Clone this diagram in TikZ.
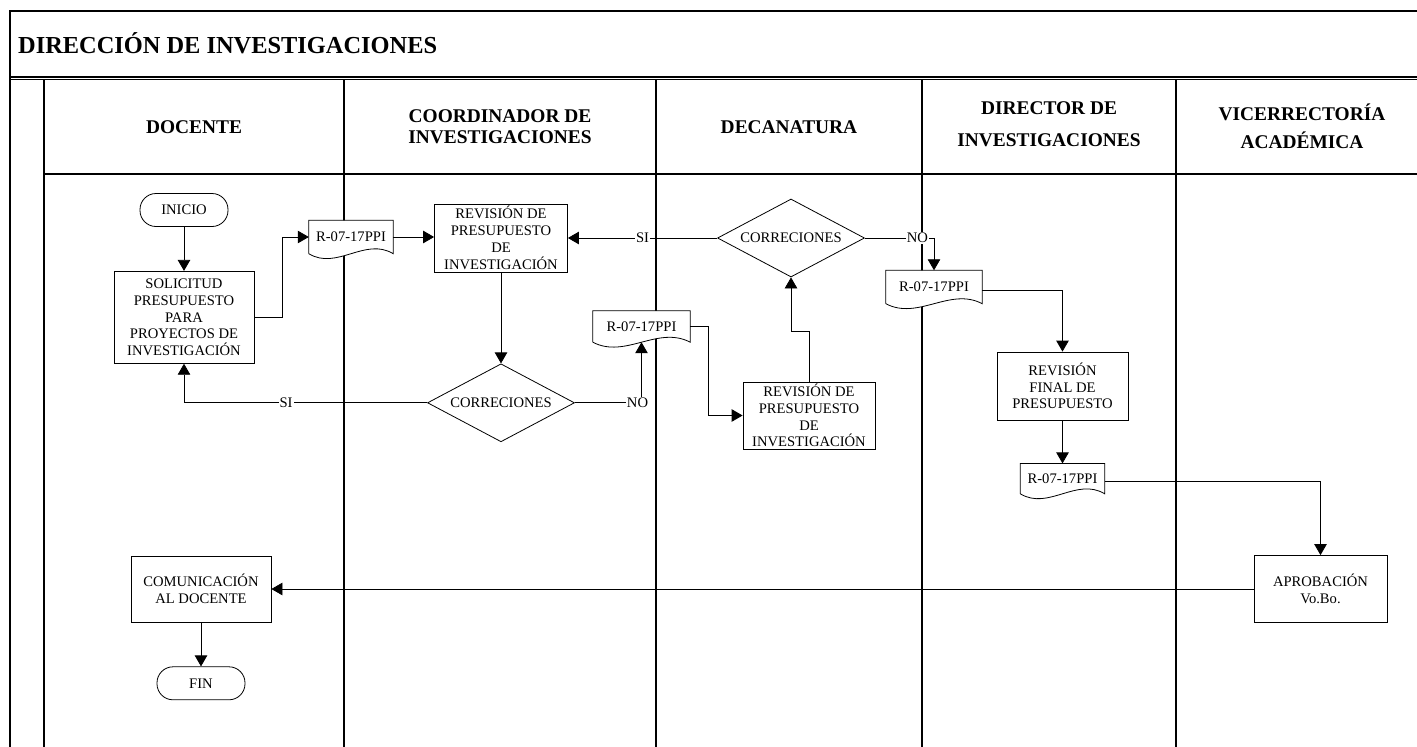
\documentclass[tikz,border=0pt]{standalone}
\usepackage{fontspec}
\setmainfont{Liberation Serif}
\usepackage{tikz}
\usetikzlibrary{positioning,shapes.geometric,arrows.meta,calc}

\newcommand{\nodefont}{\fontsize{14.6}{16.8}\selectfont}
\newcommand{\headfont}{\fontsize{19.4}{21}\selectfont\bfseries}
\newcommand{\titlefont}{\fontsize{24.4}{28}\selectfont\bfseries}

\pgfdeclarelayer{background}
\pgfdeclarelayer{docfill}
\pgfsetlayers{background,docfill,main}

\tikzset{
	proc/.style={rectangle, draw, fill=white, align=center, inner sep=0pt, line width=0.8pt, font=\nodefont},
	term/.style={rectangle, draw, fill=white, rounded corners=16pt, minimum width=88pt, minimum height=33pt, line width=0.8pt, font=\nodefont},
	deci/.style={diamond, draw, fill=white, aspect=1.9, minimum width=147pt, minimum height=78pt, inner sep=0pt, line width=0.8pt, font=\nodefont},
	docu/.style={rectangle, inner sep=0pt, font=\nodefont},
	arr/.style={-{Triangle[length=11pt,width=12.5pt]}, line width=0.8pt},
	lbl/.style={fill=white, inner sep=1pt, font=\nodefont},
	frame/.style={line width=1.1pt},
	head/.style={align=center, font=\headfont}
}

\begin{document}
\begin{tikzpicture}[x=1pt, y=-1pt]
	\useasboundingbox (0,0) rectangle (1417,747);

	% lanes
	\begin{pgfonlayer}{background}
		\draw[frame] (10,747) -- (10,11) -- (1417,11);
		\draw[frame] (10,77) -- (1417,77);
		\draw[frame] (10,79.5) -- (1417,79.5);
		\draw[frame] (44,174) -- (1417,174);
		\foreach \x in {44,344,656,922,1176}
			\draw[frame] (\x,79.5) -- (\x,747);
	\end{pgfonlayer}

	\node[font=\titlefont, anchor=base west, inner sep=0pt] (title) at (18,53) {DIRECCIÓN DE INVESTIGACIONES};

	\node[head] (hdoc) at (194,127) {DOCENTE};
	\node[head] (hcoord) at (500,127) {COORDINADOR DE\\INVESTIGACIONES};
	\node[head] (hdec) at (789,127) {DECANATURA};
	\node[head] (hdir) at (1049,124) {DIRECTOR DE\\[11pt]INVESTIGACIONES};
	\node[head] (hvice) at (1302,126) {VICERRECTORÍA\\[7pt]ACADÉMICA};

	% docente
	\node[term] (inicio) at (184,210) {INICIO};
	\node[proc, minimum width=140pt, minimum height=92pt, below=44pt of inicio] (sol)
		{SOLICITUD\\PRESUPUESTO\\PARA\\PROYECTOS DE\\INVESTIGACIÓN};
	\node[proc, minimum width=140pt, minimum height=66pt] (comun) at (201,589) {COMUNICACIÓN\\AL DOCENTE};
	\node[term, below=44pt of comun] (fin) {FIN};

	% coordinador
	\node[docu, minimum width=84pt, minimum height=33pt] (doc1) at (351,237) {R-07-17PPI};
	\node[proc, minimum width=133pt, minimum height=68pt] (rev1) at (501,238)
		{REVISIÓN DE\\PRESUPUESTO\\DE\\INVESTIGACIÓN};
	\node[deci, below=91pt of rev1] (dia1) {CORRECIONES};
	\node[docu, minimum width=97pt, minimum height=31pt] (doc2) at (641.5,326.5) {R-07-17PPI};

	% decanatura
	\node[proc, minimum width=132pt, minimum height=67pt] (rev2) at (809,415.5)
		{REVISIÓN DE\\PRESUPUESTO\\DE\\INVESTIGACIÓN};
	\node[deci] (dia2) at (791,238) {CORRECIONES};

	% director
	\node[docu, minimum width=96pt, minimum height=33pt] (doc3) at (934,287) {R-07-17PPI};
	\node[proc, minimum width=131pt, minimum height=68pt] (rev3) at (1062.5,386)
		{REVISIÓN\\FINAL DE\\PRESUPUESTO};
	\node[docu, minimum width=84pt, minimum height=30pt, below=43pt of rev3] (doc4) {R-07-17PPI};

	% vicerrectoria
	\node[proc, minimum width=133pt, minimum height=67pt] (aprob) at (1320.5,589) {APROBACIÓN\\Vo.Bo.};

	\begin{pgfonlayer}{docfill}
		\foreach \d in {doc1,doc2,doc3,doc4}
			\filldraw[fill=white, line width=0.8pt] (\d.south west) -- (\d.north west) -- (\d.north east) -- (\d.south east)
				.. controls ($(\d.south east)!0.333!(\d.south west)+(0pt,17pt)$) and ($(\d.south east)!0.667!(\d.south west)+(0pt,-17pt)$) .. (\d.south west);
	\end{pgfonlayer}

	\draw[arr] (inicio) -- (sol);
	\draw[arr] (sol.east) -- ++(28,0) |- (doc1.west);
	\draw[arr] (doc1.east) -- (doc1.east -| rev1.west);
	\draw[arr] (rev1) -- (dia1);
	\draw[arr] (dia1.west) -| node[lbl, pos=0.29] {SI} (sol.south);
	\draw[arr] (dia1.east) -| node[lbl, pos=0.47] {NO} (doc2.south);
	\draw[arr] (doc2.east) -- ++(18,0) |- (rev2.west);
	\draw[arr] (rev2.north) -- ++(0,-50) -| (dia2.south);
	\draw[arr] (dia2.west) -- node[lbl] {SI} (rev1.east);
	\draw[arr] (dia2.east) -| node[lbl, pos=0.38] {NO} (doc3.north);
	\draw[arr] ([yshift=-3pt]doc3.east) -| (rev3.north);
	\draw[arr] (rev3) -- (doc4);
	\draw[arr] ([yshift=-3pt]doc4.east) -| (aprob.north);
	\draw[arr] (aprob) -- (comun);
	\draw[arr] (comun) -- (fin);
\end{tikzpicture}
\end{document}
